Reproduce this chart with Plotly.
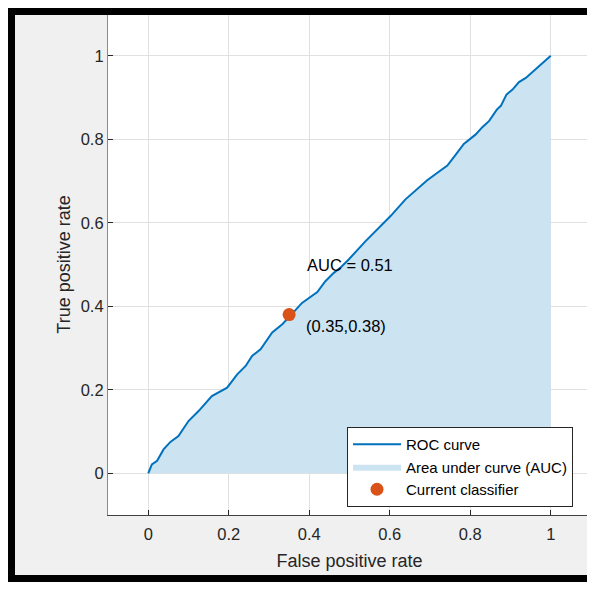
import plotly.graph_objects as go

# ROC curve points
fpr = [0, 0.009, 0.022, 0.038, 0.055, 0.075, 0.1, 0.125, 0.158, 0.196, 0.221,
       0.242, 0.258, 0.279, 0.308, 0.333, 0.351, 0.382, 0.42, 0.44, 0.461,
       0.478, 0.498, 0.54, 0.602, 0.639, 0.693, 0.743, 0.764, 0.784, 0.813,
       0.83, 0.847, 0.866, 0.876, 0.89, 0.905, 0.921, 0.938, 0.958, 0.979, 1.0]
tpr = [0, 0.021, 0.03, 0.057, 0.075, 0.089, 0.125, 0.149, 0.185, 0.205, 0.237,
       0.257, 0.281, 0.297, 0.337, 0.357, 0.375, 0.408, 0.434, 0.46, 0.48,
       0.493, 0.512, 0.556, 0.616, 0.656, 0.702, 0.737, 0.763, 0.789, 0.811,
       0.829, 0.844, 0.871, 0.88, 0.907, 0.919, 0.937, 0.947, 0.964, 0.981, 1.0]

classifier_x = [0.35]
classifier_y = [0.38]
auc_value = 0.51

tick_vals = [0, 0.2, 0.4, 0.6, 0.8, 1]
tick_text = ["0", "0.2", "0.4", "0.6", "0.8", "1"]

FONT = "Liberation Sans, Arial, sans-serif"
TXT = "#262626"

W, H = 587, 574
ML, MT = 100, 6
PW, PH = 483, 501
MR = W - ML - PW
MB = H - MT - PH


def px_x(px):
    return (px - ML) / PW


def px_y(py):
    return (MT + PH - py) / PH


fig = go.Figure()

fig.add_trace(go.Scatter(
    x=fpr, y=tpr, mode="lines", fill="tozeroy",
    fillcolor="rgb(204,227,242)", line=dict(width=0, color="rgb(204,227,242)"),
    name="Area under curve (AUC)", legendrank=2, hoverinfo="skip"))

fig.add_trace(go.Scatter(
    x=fpr, y=tpr, mode="lines", line=dict(color="#0072BD", width=2),
    name="ROC curve", legendrank=1))

fig.add_trace(go.Scatter(
    x=classifier_x, y=classifier_y, mode="markers",
    marker=dict(color="#D95319", size=13, line=dict(width=0)),
    name="Current classifier", legendrank=3))

fig.add_annotation(x=0.39, y=0.5, xref="x", yref="y",
                   text=f"AUC = {auc_value:.2f}", showarrow=False,
                   xanchor="left", yanchor="middle",
                   font=dict(family=FONT, size=16.5, color="black"))
fig.add_annotation(x=0.388, y=0.352, xref="x", yref="y",
                   text=f"({classifier_x[0]:.2f},{classifier_y[0]:.2f})",
                   showarrow=False, xanchor="left", yanchor="middle",
                   font=dict(family=FONT, size=16.5, color="black"))

# black frame (top, left, bottom) drawn as empty boxes in figure pixels
frame = [
    (0, 0, W, 7),
    (0, 0, 7, H),
    (0, H - 7, W, 7),
]
for fx, fy, fw, fh in frame:
    fig.add_annotation(x=px_x(fx), y=px_y(fy), xref="paper", yref="paper",
                       xanchor="left", yanchor="top", text=" ",
                       showarrow=False, width=fw, height=fh,
                       bgcolor="black", borderpad=0, borderwidth=0,
                       font=dict(size=1, color="black"))

axis_common = dict(
    range=[-0.1, 1.1], tickvals=tick_vals, ticktext=tick_text,
    ticks="inside", ticklen=5, tickwidth=1, tickcolor=TXT,
    showline=True, linewidth=1.2, gridcolor="#e0e0e0", gridwidth=1,
    zeroline=False, showgrid=True,
    tickfont=dict(family=FONT, size=16.5, color=TXT),
)

fig.update_layout(
    width=W, height=H,
    margin=dict(l=ML, r=MR, t=MT, b=MB, pad=0),
    paper_bgcolor="#f0f0f0", plot_bgcolor="white",
    font=dict(family=FONT, color=TXT),
    xaxis=dict(**axis_common, linecolor="#404040", ticklabelstandoff=4,
               title=dict(text="False positive rate",
                          font=dict(family=FONT, size=18, color=TXT),
                          standoff=12)),
    yaxis=dict(**axis_common, linecolor="#8a8a8a", ticklabelstandoff=0,
               title=dict(text="True positive rate",
                          font=dict(family=FONT, size=18, color=TXT),
                          standoff=5)),
    legend=dict(x=px_x(339), y=px_y(419), xanchor="left", yanchor="top",
                bgcolor="white", bordercolor="#262626", borderwidth=1,
                font=dict(family=FONT, size=15, color="black"),
                tracegroupgap=0, itemwidth=48),
    showlegend=True,
)

fig.write_html("out.html")
